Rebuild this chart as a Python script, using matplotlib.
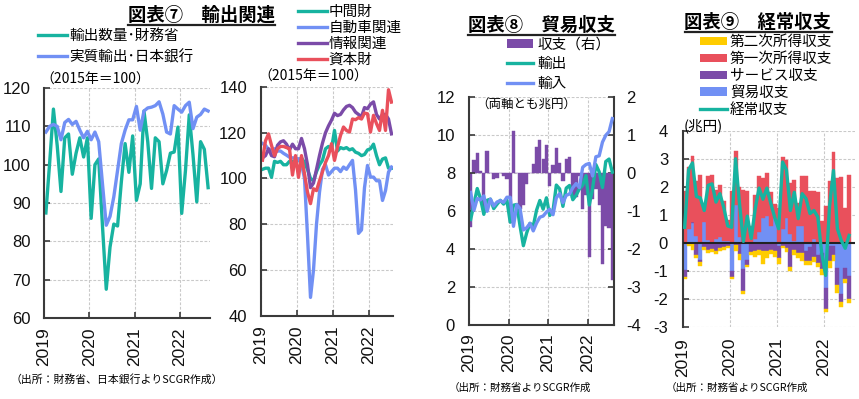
import numpy as np
import pandas as pd
import matplotlib
matplotlib.use('Agg')
import matplotlib.pyplot as plt
from matplotlib.lines import Line2D
from matplotlib.patches import Patch

JP = ['Noto Sans CJK JP', 'DejaVu Sans']
NUM = ['Liberation Sans', 'DejaVu Sans']
plt.rcParams['font.family'] = JP
plt.rcParams['axes.unicode_minus'] = False

# ---------------- data ----------------
months = pd.period_range('2019-01', '2022-08', freq='M')
months_ca = pd.period_range('2019-01', '2022-07', freq='M')
year_ticks = [2019, 2020, 2021, 2022]

# Chart 7 left (2015=100)
export_volume_mof = [87.4, 100.5, 114.5, 105, 93, 107, 108, 97.5, 103, 107, 102, 107,
                     86, 100, 101.5, 84, 67.5, 78.5, 84.5, 84, 95.5, 105.5, 98, 107.5,
                     90.7, 95, 114, 106, 93.8, 107, 106, 95, 98.5, 103, 103.3, 109.8,
                     87.3, 98.5, 113, 102.5, 90.3, 106, 104, 94]
real_export_boj = [108.5, 110, 110.5, 110, 106.5, 111, 111.8, 110.5, 111.3, 109, 107, 108.7,
                   106.5, 108.5, 106, 95, 84.2, 86.5, 91.6, 98.5, 105.5, 109, 111.7, 111.7,
                   115.2, 109, 114, 114.8, 115, 115.4, 116.4, 113.2, 108.5, 108, 115.4, 114.5,
                   113.7, 115.4, 116.3, 109.4, 112.4, 113.1, 114.5, 114]

# Chart 7 right (2015=100)
intermediate = [104, 104.5, 104.5, 100.5, 107.5, 107, 107.5, 106, 106, 107.5, 107.5, 107,
                108, 109, 107, 104, 100, 99, 103, 106, 108, 113, 114, 113,
                121, 112, 113.5, 113, 113.5, 112.5, 113, 111.5, 111, 110, 110.5, 112.5,
                113, 115, 110, 106, 108.5, 109, 104.5, 104.5]
automobile = [115.3, 114.5, 112.8, 112.3, 113, 112, 112, 111, 110.2, 109.3, 109, 109,
              108.6, 106.4, 100, 75, 48, 60, 80, 94, 104, 106, 101.5, 103,
              104.5, 104.5, 103, 105, 104, 106, 107.9, 95, 76, 77.5, 96, 105.7,
              100.6, 100.6, 99, 99, 90.4, 94.7, 102.8, 105]
information = [109, 110, 113, 110, 109.5, 114.5, 116, 116.5, 115, 112.5, 115, 113,
               113, 117.5, 113, 106, 96, 98, 104, 110, 115.5, 120, 123, 125.5,
               128.5, 127.5, 128, 130, 131.5, 132, 131, 129, 128, 127, 131, 130.5,
               132.5, 133.5, 128, 126, 128, 128, 126, 119.5]
capital_goods = [108, 116.5, 119.5, 114.5, 110, 113, 114, 114, 113.5, 113, 101.5, 110,
                 100.5, 110, 102, 94, 89, 95.5, 94.7, 99, 103, 107, 110, 115.2,
                 107.9, 113.7, 118.8, 122.5, 121, 120.3, 126, 125.7, 126.6, 126, 128.6, 128.3,
                 120.3, 127.6, 124, 121, 129.8, 121, 138.8, 133.4]

# Chart 8 (trillion yen)
exports_mof = [5.57, 6.38, 7.20, 6.66, 5.84, 6.58, 6.64, 6.14, 6.37, 6.58, 6.38, 6.58,
               5.43, 6.32, 6.36, 5.21, 4.19, 4.86, 5.37, 5.22, 6.06, 6.57, 6.11, 6.71,
               5.78, 6.04, 7.38, 7.18, 6.26, 7.22, 7.36, 6.61, 6.84, 7.18, 7.37, 7.88,
               6.33, 7.19, 8.46, 8.08, 7.25, 8.62, 8.75, 8.06]
imports_mof = [6.99, 6.05, 6.67, 6.60, 6.81, 6.00, 6.64, 6.28, 6.49, 6.56, 6.47, 6.74,
               6.74, 5.21, 6.35, 6.14, 5.02, 5.13, 5.36, 4.97, 5.38, 5.69, 5.75, 5.96,
               6.11, 5.82, 6.71, 6.93, 6.45, 6.84, 6.91, 7.24, 7.46, 7.25, 8.32, 8.46,
               8.52, 7.86, 8.87, 8.92, 9.64, 10.00, 10.19, 10.88]
trade_balance_mof = [-1.42, 0.34, 0.53, 0.06, -0.97, 0.59, 0.00, -0.14, -0.12, 0.02, -0.08, -0.15,
                     -1.31, 1.11, 0.00, -0.93, -0.83, -0.27, 0.01, 0.25, 0.68, 0.87, 0.37, 0.75,
                     -0.33, 0.22, 0.66, 0.26, -0.19, 0.38, 0.44, -0.64, -0.62, -0.07, -0.95, -0.58,
                     -2.19, -0.67, -0.41, -0.84, -2.38, -1.38, -1.43, -2.82]

# Chart 9 (trillion yen)
trade_bop = [-0.96, 0.50, 0.70, 0.25, -0.60, 0.73, 0.10, -0.05, 0.12, 0.20, 0.05, 0.05,
             -1.00, 1.35, 0.20, -0.93, -0.63, -0.05, 0.15, 0.40, 0.90, 0.95, 0.60, 0.90,
             -0.10, 0.50, 0.90, 0.30, 0.05, 0.60, 0.60, -0.30, -0.15, 0.15, -0.43, -0.35,
             -1.60, -0.10, -0.10, -0.90, -1.83, -0.90, -1.20]
services = [-0.26, -0.02, 0.05, -0.45, -0.10, -0.15, -0.27, -0.17, -0.30, -0.20, -0.15, -0.10,
            -0.22, -0.08, -0.40, -0.80, -0.15, -0.28, -0.30, -0.25, -0.30, -0.30, -0.25, -0.30,
            -0.45, -0.10, -0.20, -0.85, -0.25, -0.35, -0.35, -0.35, -0.50, -0.50, -0.30, -0.60,
            -0.75, -0.55, -0.35, -0.60, -0.30, -0.40, -0.80]
primary_income = [1.85, 2.22, 2.35, 1.95, 2.43, 0.67, 2.30, 2.43, 1.75, 1.85, 1.45, 0.75,
                  1.85, 1.93, 1.80, 1.88, 1.83, 0.58, 1.55, 2.00, 1.40, 1.55, 1.20, 0.50,
                  1.25, 2.56, 2.05, 1.85, 2.20, 0.81, 1.80, 2.37, 1.84, 1.70, 1.80, 0.78,
                  1.30, 2.20, 3.23, 2.30, 2.36, 1.25, 2.43]
secondary_income = [-0.08, -0.10, -0.25, -0.10, -0.13, -0.10, -0.08, -0.11, -0.12, -0.10, -0.10, -0.10,
                    -0.08, -0.20, -0.20, -0.10, -0.10, -0.10, -0.20, -0.20, -0.45, -0.25, -0.15, -0.20,
                    -0.20, -0.08, -0.15, -0.15, -0.20, -0.20, -0.30, -0.15, -0.15, -0.20, -0.15, -0.20,
                    -0.12, -0.25, -0.20, -0.30, -0.15, -0.15, -0.17]
current_account = [0.55, 2.60, 2.85, 1.65, 1.60, 1.15, 2.05, 2.10, 1.45, 1.75, 1.25, 0.60,
                   0.55, 3.00, 1.40, 0.05, 0.95, 0.15, 1.20, 1.95, 1.55, 1.95, 1.40, 0.90,
                   0.50, 2.88, 2.60, 1.15, 1.80, 0.86, 1.75, 1.57, 1.04, 1.15, 0.92, -0.37,
                   -1.17, 1.30, 2.58, 0.50, 0.08, -0.20, 0.26]

# ---------------- style ----------------
TEAL = '#17B3A0'
BLUE = '#7190F4'
PURPLE = '#7B4BA8'
RED = '#E9505C'
YELLOW = '#FFCC00'
GRID = '#C9C9C9'
SPINE = '#3A3A3A'
LW = 2.4

W, H = 859, 399
fig = plt.figure(figsize=(W / 100, H / 100), dpi=100)


def fx(px):
    return px / W


def fy(py):
    return 1 - py / H


def xpos(periods):
    return np.array([p.year + (p.month - 0.5) / 12 for p in periods])


x = xpos(months)
x_ca = xpos(months_ca)
X0, X1 = 2019, 2019 + 44 / 12


def base_style(ax, ylim, yticks, ypad=10.5, xpad=7):
    ax.set_xlim(X0, X1)
    ax.set_ylim(*ylim)
    ax.set_yticks(yticks)
    ax.set_xticks(year_ticks)
    ax.set_xticklabels([str(v) for v in year_ticks])
    for s in ['top', 'right']:
        ax.spines[s].set_visible(False)
    for s in ['left', 'bottom']:
        ax.spines[s].set_color(SPINE)
        ax.spines[s].set_linewidth(1.5)
    ax.tick_params(axis='both', direction='in', length=4, width=1.2, color=SPINE,
                   labelfontfamily=NUM, labelcolor='#111111')
    ax.tick_params(axis='y', pad=ypad, labelsize=12)
    ax.tick_params(axis='x', pad=xpad, labelsize=12.5, labelrotation=90)
    ax.grid(True, color=GRID, ls=(0, (2.5, 1.5)), lw=0.8)
    ax.set_axisbelow(True)


# ---------- Panel 1 ----------
ax1 = fig.add_axes([fx(44), fy(318), fx(166), 230 / H])
base_style(ax1, (60, 120), range(60, 121, 10), ypad=9.5)
l11, = ax1.plot(x, export_volume_mof, color=TEAL, lw=LW, solid_joinstyle='round')
l12, = ax1.plot(x, real_export_boj, color=BLUE, lw=LW, solid_joinstyle='round')
fig.legend([l11, l12], ['輸出数量･財務省', '実質輸出･日本銀行'], loc='upper left',
           bbox_to_anchor=(fx(38), fy(29)), frameon=False, fontsize=10.5,
           handlelength=2.0, handletextpad=0.15, labelspacing=0.45,
           borderpad=0, borderaxespad=0)
fig.text(fx(40), fy(80), '（2015年＝100）', fontsize=10, va='center', ha='left')

# ---------- Panel 2 ----------
ax2 = fig.add_axes([fx(261), fy(315.7), fx(132), 228.7 / H])
base_style(ax2, (40, 140), range(40, 141, 20), ypad=10)
l21, = ax2.plot(x, intermediate, color=TEAL, lw=LW, solid_joinstyle='round')
l22, = ax2.plot(x, automobile, color=BLUE, lw=LW, solid_joinstyle='round')
l23, = ax2.plot(x, information, color=PURPLE, lw=LW, solid_joinstyle='round')
l24, = ax2.plot(x, capital_goods, color=RED, lw=LW, solid_joinstyle='round')
fig.legend([l21, l22, l23, l24], ['中間財', '自動車関連', '情報関連', '資本財'],
           loc='upper left', bbox_to_anchor=(fx(298), fy(5)), frameon=False,
           fontsize=10.5, handlelength=2.0, handletextpad=0.1, labelspacing=0.14,
           borderpad=0, borderaxespad=0)
fig.text(fx(258), fy(77), '（2015年＝100）', fontsize=10, va='center', ha='left')

# ---------- Panel 3 ----------
ax3 = fig.add_axes([fx(469), fy(325.3), fx(145), 228 / H])
ax3r = ax3.twinx()
base_style(ax3, (0, 12), range(0, 13, 2), ypad=10, xpad=6)
ax3.grid(False)
ax3.set_zorder(2)
ax3r.set_zorder(1)
ax3.patch.set_visible(False)
ax3r.set_ylim(-4, 2)
ax3r.set_yticks(range(-4, 3))
ax3r.xaxis.set_visible(True)
ax3r.tick_params(axis='x', labelbottom=False, length=0)
ax3r.tick_params(axis='y', direction='in', length=4, width=1.2, color=SPINE,
                 labelfontfamily=NUM, labelsize=12, pad=9, labelcolor='#111111')
for s in ['top', 'left', 'bottom']:
    ax3r.spines[s].set_visible(False)
ax3r.spines['right'].set_color(SPINE)
ax3r.spines['right'].set_linewidth(1.5)
ax3r.grid(True, color=GRID, ls=(0, (2.5, 1.5)), lw=0.8)
ax3r.set_axisbelow(True)
ax3r.bar(x, trade_balance_mof, width=1 / 12, color=PURPLE, edgecolor=PURPLE, lw=0.3)
l31, = ax3.plot(x, exports_mof, color=TEAL, lw=LW, solid_joinstyle='round')
l32, = ax3.plot(x, imports_mof, color=BLUE, lw=LW, solid_joinstyle='round')
fig.legend([Patch(facecolor=PURPLE), l31, l32], ['収支（右）', '輸出', '輸入'],
           loc='upper left', bbox_to_anchor=(fx(507), fy(37.5)), frameon=False,
           fontsize=10.5, handlelength=1.8, handleheight=0.55, handletextpad=0.3,
           labelspacing=0.38, borderpad=0, borderaxespad=0)
fig.text(fx(476), fy(104), '（両軸とも兆円）', fontsize=9, va='center', ha='left')

# ---------- Panel 4 ----------
ax4 = fig.add_axes([fx(682.7), fy(326.7), fx(172.3), 196 / H])
base_style(ax4, (-3, 4), range(-3, 5), ypad=10.5, xpad=8)
ax4.spines['bottom'].set_visible(False)
ax4.tick_params(axis='x', length=0)
series4 = [(trade_bop, BLUE, '貿易収支'), (services, PURPLE, 'サービス収支'),
           (primary_income, RED, '第一次所得収支'), (secondary_income, YELLOW, '第二次所得収支')]
pos_b = np.zeros(len(x_ca))
neg_b = np.zeros(len(x_ca))
for vals, col, lab in series4:
    v = np.asarray(vals)
    bottom = np.where(v >= 0, pos_b, neg_b)
    ax4.bar(x_ca, v, width=1 / 12, bottom=bottom, color=col, edgecolor=col, lw=0.3)
    pos_b = pos_b + np.where(v >= 0, v, 0)
    neg_b = neg_b + np.where(v < 0, v, 0)
ax4.axhline(0, color='#222222', lw=1.5, zorder=3)
l41, = ax4.plot(x_ca, current_account, color=TEAL, lw=LW, solid_joinstyle='round', zorder=4)
h4 = [Patch(facecolor=YELLOW), Patch(facecolor=RED), Patch(facecolor=PURPLE),
      Patch(facecolor=BLUE), l41]
fig.legend(h4, ['第二次所得収支', '第一次所得収支', 'サービス収支', '貿易収支', '経常収支'],
           loc='upper left', bbox_to_anchor=(fx(700), fy(35)), frameon=False,
           fontsize=10.5, handlelength=1.85, handleheight=0.5, handletextpad=0.2,
           labelspacing=0.2, borderpad=0, borderaxespad=0)
fig.text(fx(684), fy(126), '(兆円)', fontsize=10.5, va='center', ha='left')

# ---------- titles & sources ----------
titles = [('図表⑦　輸出関連', 201.5, 15.5), ('図表⑧　貿易収支', 541.5, 25.5),
          ('図表⑨　経常収支', 758, 23)]
title_artists = []
for txt, cx, cy in titles:
    t = fig.text(fx(cx), fy(cy), txt, fontsize=13.2, fontweight='bold', ha='center',
                 va='center')
    title_artists.append(t)

fig.text(fx(10), fy(379), '（出所：財務省、日本銀行よりSCGR作成）', fontsize=7.8,
         va='center', ha='left')
fig.text(fx(449), fy(388), '（出所：財務省よりSCGR作成', fontsize=7.6, va='center', ha='left')
fig.text(fx(666), fy(388), '（出所：財務省よりSCGR作成', fontsize=7.6, va='center', ha='left')

fig.canvas.draw()
renderer = fig.canvas.get_renderer()
for t in title_artists:
    bb = t.get_window_extent(renderer).transformed(fig.transFigure.inverted())
    fig.add_artist(Line2D([bb.x0, bb.x1], [bb.y0 + 0.3 / H, bb.y0 + 0.3 / H],
                          transform=fig.transFigure, color='#222222', lw=1.6))

fig.savefig('out.png', dpi=100)
